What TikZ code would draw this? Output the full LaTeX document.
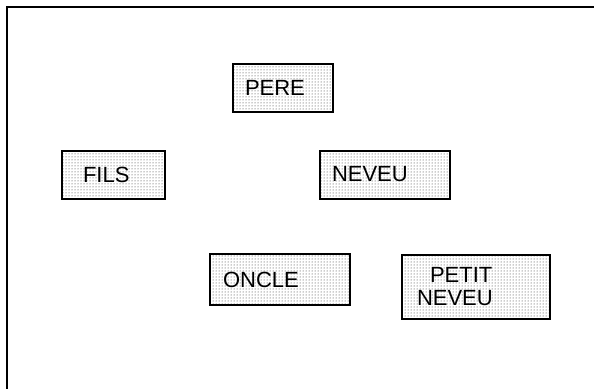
\documentclass[tikz,border=0pt]{standalone}
\usepackage{fontspec}
\setmainfont{Liberation Sans}
\usetikzlibrary{patterns}

\tikzset{
  termbox/.style={draw,line width=2pt,pattern=dots,pattern color=black!85,
    minimum height=48pt,inner ysep=0pt,align=left,font=\fontsize{22}{23}\selectfont},
  frameline/.style={line width=2.4pt}
}

\begin{document}
\begin{tikzpicture}[x=1pt,y=-1pt]
  \useasboundingbox (0,0) rectangle (594,388);
  \coordinate (corner) at (7,7);
  \coordinate (topend) at (600,7);
  \coordinate (leftend) at (7,395);
  \draw[frameline] (topend) -- (corner) -- (leftend);
  % terms
  \node[termbox,text width=76pt,inner xsep=12pt] (pere) at (283,88) {PERE};
  \node[termbox,text width=61pt,inner xsep=21pt] (fils) at (113.5,175) {FILS};
  \node[termbox,text width=106pt,inner xsep=12pt] (neveu) at (385,174.5) {NEVEU};
  \node[termbox,text width=114pt,inner xsep=13pt,minimum height=51pt] (oncle) at (280,279.5) {ONCLE};
  \node[termbox,text width=118pt,inner xsep=15pt,minimum height=64pt,
    font=\fontsize{22}{23}\selectfont] (petitneveu) at (476,286.5)
    {\hspace*{13pt}PETIT\\NEVEU};
\end{tikzpicture}
\end{document}
